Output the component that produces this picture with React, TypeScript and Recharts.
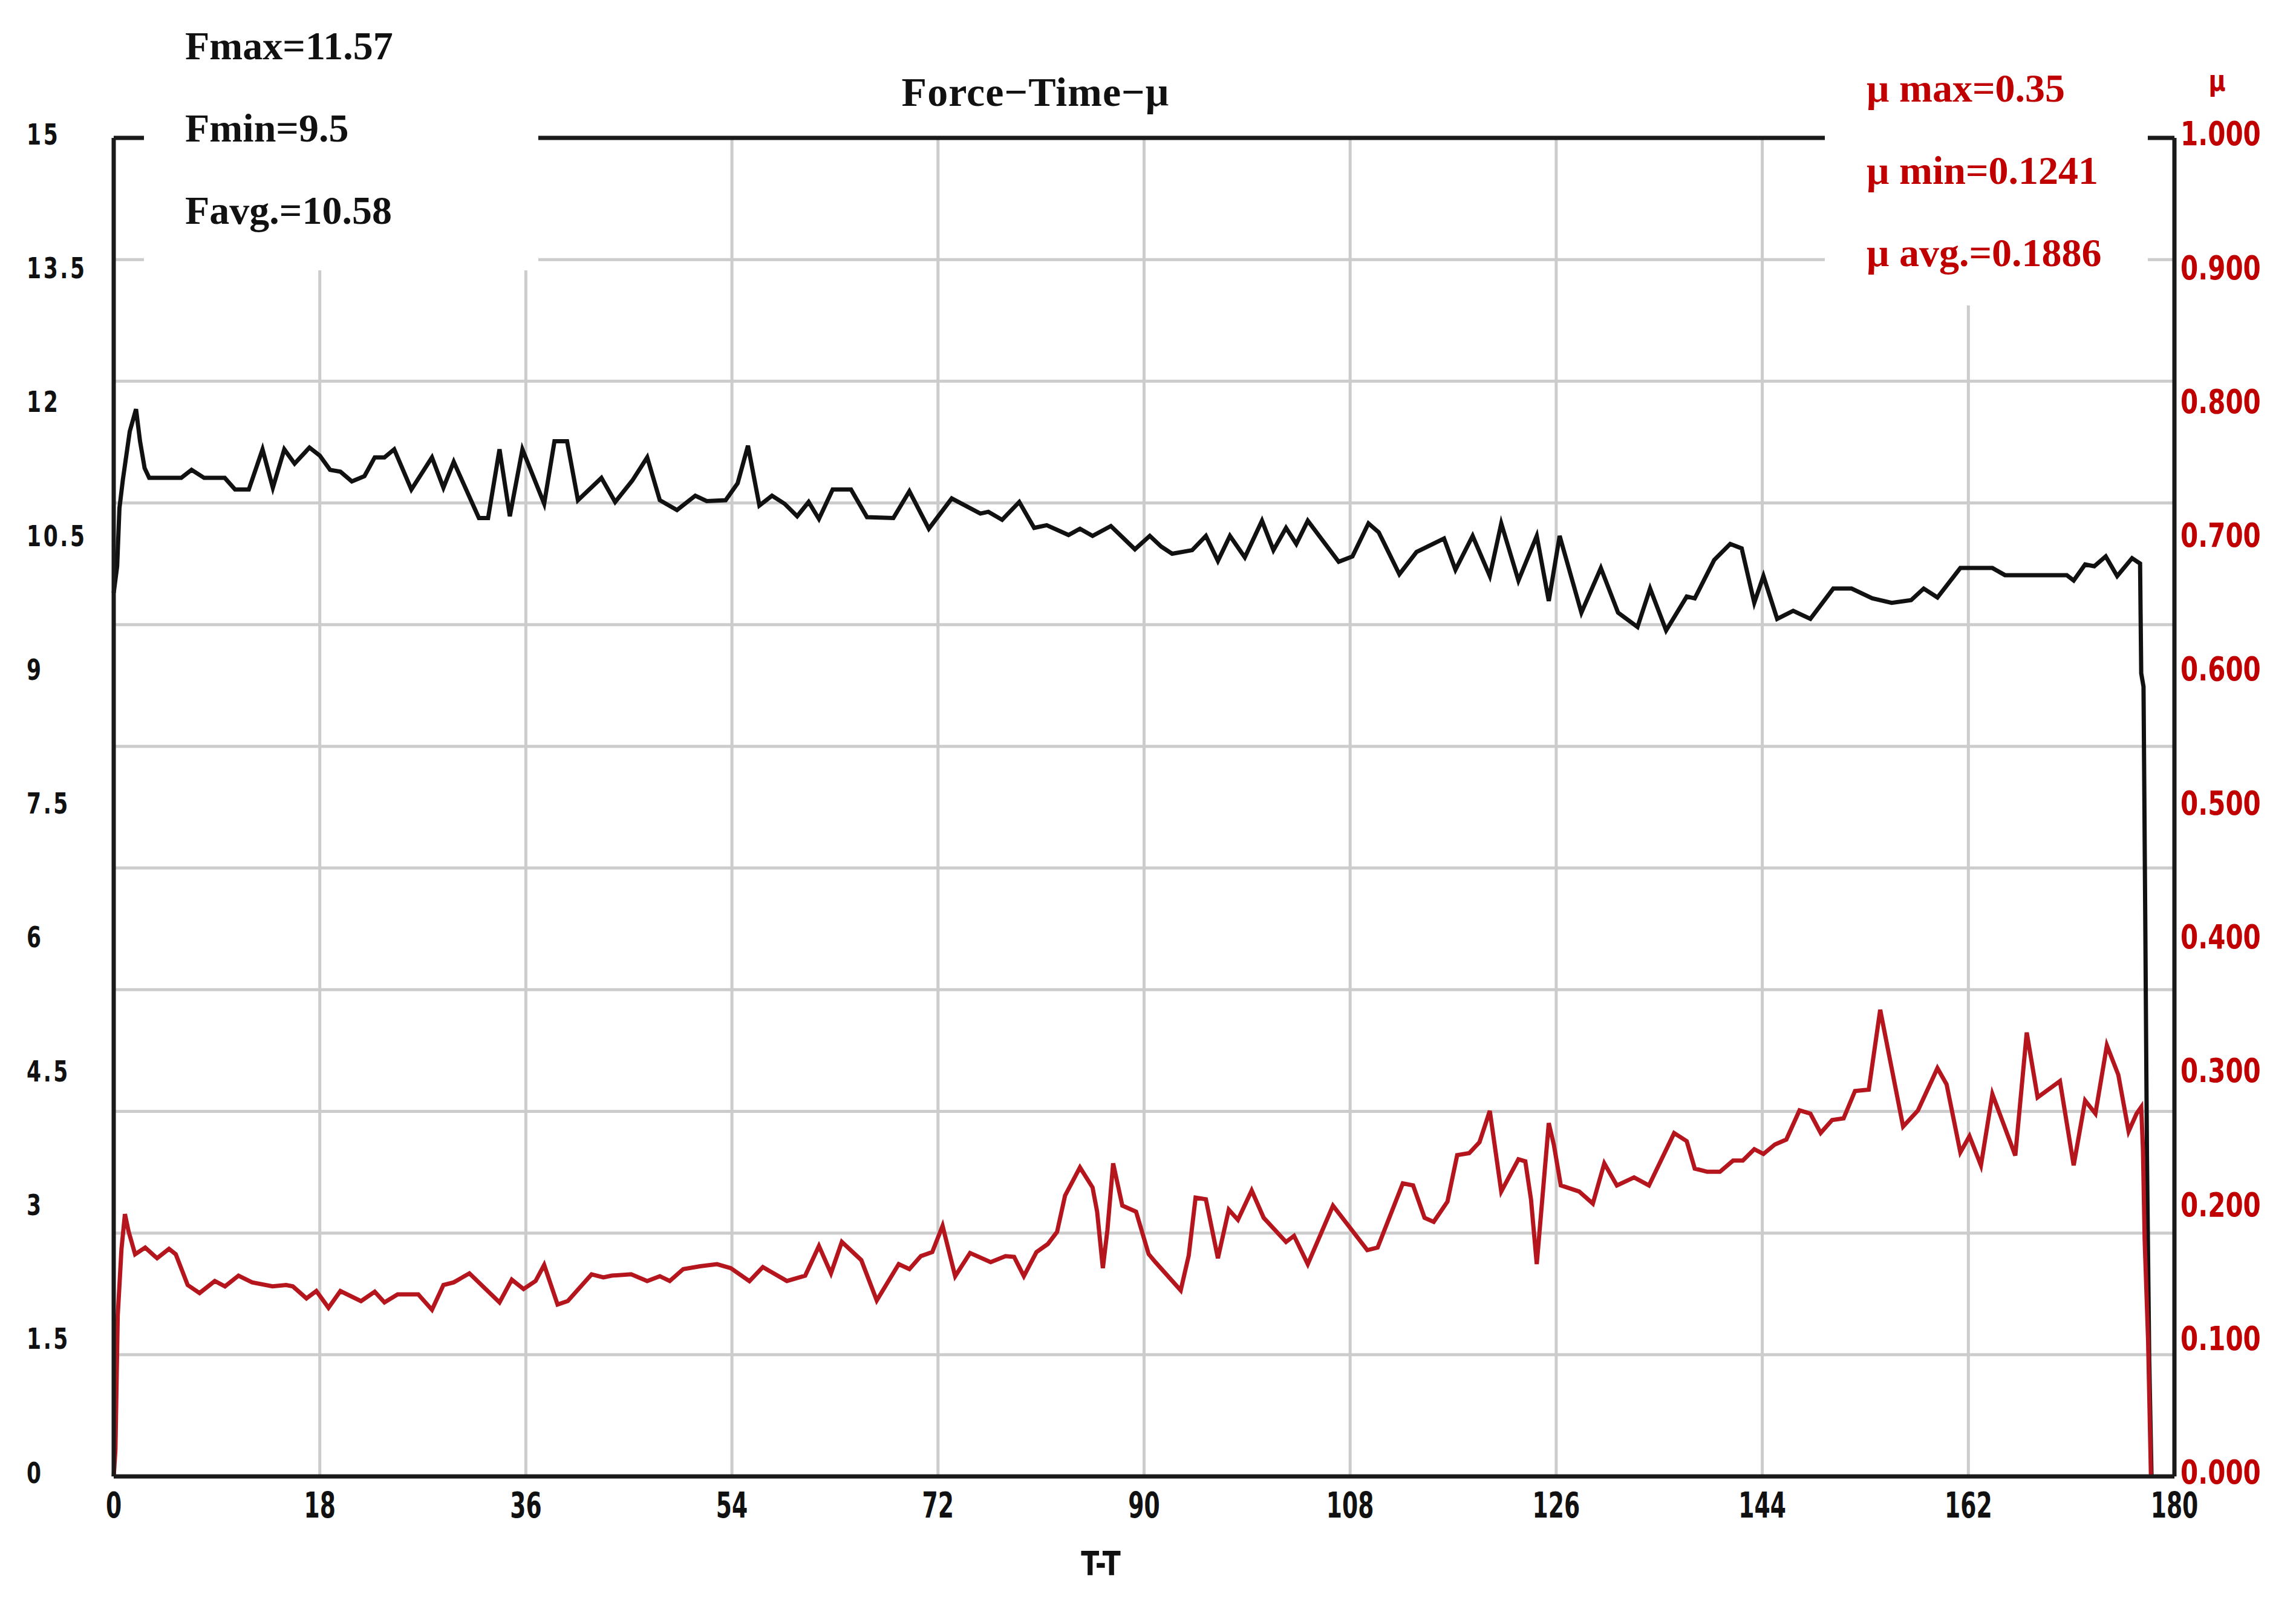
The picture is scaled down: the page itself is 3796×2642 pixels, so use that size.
import React from 'react';
import { LineChart, Line, XAxis, YAxis, CartesianGrid } from 'recharts';

// force curve (time s, force)
const forceTime = [
  0, 0.3, 0.5, 0.8, 1.4, 1.95, 2.3, 2.7, 3.1, 5.9, 6.8, 7.9, 9.7, 10.6, 11.8, 13.0, 13.9, 14.9, 15.8, 17.1,
  18.0, 18.9, 19.8, 20.8, 21.9, 22.8, 23.65, 24.5, 26.0, 27.8, 28.8, 29.7, 31.9, 32.7, 33.7, 34.6, 35.7, 37.6,
  38.5, 39.6, 40.55, 42.6, 43.8, 45.3, 46.6, 47.7, 49.2, 50.8, 51.8, 53.45, 54.5, 55.4, 56.4, 57.5, 58.6, 59.7,
  60.7, 61.6, 62.8, 64.4, 65.8, 68.1, 69.5, 71.2, 73.2, 75.7, 76.4, 77.6, 79.1, 80.4, 81.5, 83.4, 84.4, 85.5,
  87.1, 89.2, 90.5, 91.5, 92.45, 94.2, 95.4, 96.45, 97.5, 98.8, 100.3, 101.3, 102.4, 103.3, 104.3, 107.0, 108.2,
  109.6, 110.5, 112.3, 113.8, 116.2, 117.2, 118.7, 120.2, 121.2, 122.7, 124.3, 125.35, 126.3, 128.2, 129.9,
  131.4, 133.1, 134.2, 135.6, 137.4, 138.1, 139.8, 141.2, 142.2, 143.3, 144.1, 145.3, 146.7, 148.2, 150.2,
  151.8, 153.6, 155.3, 157.0, 158.1, 159.3, 161.3, 164.1, 165.2, 170.6, 171.2, 172.2, 173.0, 174.0, 175.0,
  176.3, 177.0, 177.1, 177.3, 177.45, 177.6, 177.8, 178.0,
];
const forceValues = [
  9.9, 10.2, 10.85, 11.17, 11.71, 11.96, 11.6, 11.3, 11.19, 11.19, 11.28, 11.19, 11.19, 11.06, 11.06, 11.51,
  11.08, 11.51, 11.35, 11.53, 11.44, 11.28, 11.26, 11.15, 11.21, 11.42, 11.42, 11.51, 11.06, 11.42, 11.08,
  11.37, 10.74, 10.74, 11.51, 10.76, 11.51, 10.9, 11.6, 11.6, 10.94, 11.19, 10.92, 11.16, 11.42, 10.94, 10.83,
  10.99, 10.93, 10.94, 11.13, 11.55, 10.88, 10.99, 10.9, 10.76, 10.92, 10.73, 11.06, 11.06, 10.75, 10.74,
  11.04, 10.62, 10.96, 10.79, 10.81, 10.72, 10.92, 10.63, 10.66, 10.55, 10.62, 10.54, 10.65, 10.39, 10.54,
  10.42, 10.34, 10.38, 10.54, 10.26, 10.54, 10.3, 10.71, 10.38, 10.63, 10.45, 10.71, 10.25, 10.31, 10.68,
  10.58, 10.11, 10.36, 10.51, 10.16, 10.54, 10.09, 10.68, 10.04, 10.54, 9.81, 10.54, 9.68, 10.18, 9.68, 9.52,
  9.95, 9.48, 9.86, 9.84, 10.27, 10.45, 10.4, 9.79, 10.09, 9.61, 9.7, 9.61, 9.95, 9.95, 9.84, 9.79, 9.82,
  9.95, 9.85, 10.18, 10.18, 10.1, 10.1, 10.04, 10.22, 10.2, 10.31, 10.09, 10.29, 10.23, 9.0, 8.85, 6.3, 3.6,
  1.3, 0,
];

// friction coefficient curve (time s, mu)
const muTime = [
  0, 0.15, 0.35, 0.68, 0.98, 1.3, 1.87, 2.75, 3.79, 4.83, 5.42, 6.46, 7.5, 8.83, 9.72, 10.9, 12.09, 13.87,
  15.06, 15.65, 16.84, 17.7, 18.76, 19.8, 21.6, 22.8, 23.65, 24.8, 26.6, 27.8, 28.8, 29.7, 31.07, 33.7, 34.77,
  35.8, 36.85, 37.6, 38.77, 39.66, 41.74, 42.77, 43.5, 45.2, 46.6, 47.7, 48.57, 49.75, 51.23, 52.7, 53.9,
  55.53, 56.7, 58.8, 60.4, 61.6, 62.65, 63.6, 65.3, 66.65, 68.57, 69.5, 70.5, 71.5, 72.4, 73.5, 74.8, 76.6,
  77.9, 78.65, 79.5, 80.6, 81.6, 82.4, 83.1, 84.4, 85.5, 85.9, 86.4, 86.8, 87.3, 88.1, 89.3, 90.4, 91.0, 93.2,
  93.9, 94.5, 95.4, 96.45, 97.4, 98.2, 99.4, 100.45, 102.4, 103.1, 104.3, 106.5, 109.5, 110.4, 112.6, 113.5,
  114.5, 115.3, 116.5, 117.35, 118.4, 119.3, 120.2, 121.2, 122.7, 123.3, 123.8, 124.3, 125.35, 125.8, 126.4,
  128.0, 129.2, 130.2, 131.3, 132.8, 134.1, 136.3, 137.4, 138.1, 139.2, 140.3, 141.45, 142.3, 143.3, 144.1,
  145.1, 146.1, 147.25, 148.2, 149.1, 150.1, 151.1, 152.1, 153.3, 154.3, 156.3, 157.6, 159.3, 160.1, 161.3,
  162.1, 163.1, 164.1, 166.1, 167.1, 168.05, 170.0, 171.2, 172.2, 173.1, 174.1, 175.1, 176.0, 176.7, 177.1,
  177.25, 177.4, 177.7, 177.95,
];
const muValues = [
  0, 0.02, 0.12, 0.17, 0.196, 0.183, 0.166, 0.171, 0.163, 0.17, 0.166, 0.143, 0.137, 0.146, 0.142, 0.15,
  0.145, 0.142, 0.143, 0.142, 0.133, 0.1385, 0.126, 0.1385, 0.131, 0.138, 0.13, 0.136, 0.136, 0.1245, 0.143,
  0.145, 0.1517, 0.13, 0.147, 0.14, 0.146, 0.158, 0.1284, 0.131, 0.151, 0.1487, 0.15, 0.151, 0.146, 0.1496,
  0.146, 0.1549, 0.157, 0.1586, 0.1556, 0.1459, 0.1564, 0.146, 0.15, 0.1722, 0.1518, 0.1752, 0.1616, 0.1315,
  0.1586, 0.1549, 0.1646, 0.1676, 0.1872, 0.1496, 0.1669, 0.1601, 0.1646, 0.164, 0.1496, 0.1676, 0.1737,
  0.1827, 0.2098, 0.2309, 0.2159, 0.1978, 0.1556, 0.1842, 0.2339, 0.2023, 0.1978, 0.1661, 0.16, 0.139, 0.165,
  0.2083, 0.207, 0.163, 0.1993, 0.1917, 0.2136, 0.1932, 0.1752, 0.1797, 0.1586, 0.2023, 0.1691, 0.171, 0.2189,
  0.2174, 0.1932, 0.1902, 0.2053, 0.24, 0.2415, 0.2497, 0.2731, 0.2129, 0.2369, 0.2354, 0.2068, 0.1586, 0.264,
  0.2475, 0.2174, 0.2129, 0.2038, 0.2339, 0.2174, 0.2234, 0.2174, 0.2565, 0.2505, 0.23, 0.2276, 0.2276, 0.236,
  0.236, 0.2445, 0.2409, 0.248, 0.2517, 0.2735, 0.271, 0.2566, 0.2663, 0.2675, 0.288, 0.289, 0.3486, 0.2614,
  0.2735, 0.305, 0.2929, 0.2421, 0.2542, 0.2324, 0.2856, 0.2397, 0.3316, 0.2832, 0.2953, 0.2324, 0.2808,
  0.2711, 0.322, 0.3, 0.2578, 0.2711, 0.276, 0.2445, 0.1767, 0.1017, 0,
];

const timeTicks = [0, 18, 36, 54, 72, 90, 108, 126, 144, 162, 180];
const forceTicks = [0, 1.5, 3, 4.5, 6, 7.5, 9, 10.5, 12, 13.5, 15];
const muTicks = [0, 0.1, 0.2, 0.3, 0.4, 0.5, 0.6, 0.7, 0.8, 0.9, 1.0];
// the grid has 11 rows, which do not line up with the labels
const gridRows = [0, 1, 2, 3, 4, 5, 6, 7, 8, 9, 10, 11];

const forceStats = ['Fmax=11.57', 'Fmin=9.5', 'Favg.=10.58'];
const muStats = ['\u03bc max=0.35', '\u03bc min=0.1241', '\u03bc avg.=0.1886'];

const forceData = forceTime.map((t, i) => ({ t, force: forceValues[i] }));
const muData = muTime.map((t, i) => ({ t, mu: muValues[i] }));

const W = 3796;
const H = 2642;
// the instrument uses a tall narrow face; squeeze DejaVu Sans Bold to get close
const axisFont = "'DejaVu Sans', sans-serif";
const serif = "'Liberation Serif', 'DejaVu Serif', serif";
const frame = { stroke: '#1a1a1a', strokeWidth: 7 };
const red = '#c00000';

const LeftTick = ({ x, y, payload }: any) => (
  <g transform={`translate(${x - 144},${y - 6}) scale(0.72,1)`}>
    <text x={0} y={0} textAnchor="start" dominantBaseline="central"
      fontFamily={axisFont} fontWeight="bold" fontSize={48} letterSpacing={5} fill="#111">
      {payload.value}
    </text>
  </g>
);

const RightTick = ({ x, y, payload }: any) => (
  <g transform={`translate(${x + 10},${y - 7}) scale(0.75,1)`}>
    <text x={0} y={0} textAnchor="start" dominantBaseline="central"
      fontFamily={axisFont} fontWeight="bold" fontSize={56} fill={red}>
      {Number(payload.value).toFixed(3)}
    </text>
  </g>
);

const TimeTick = ({ x, y, payload }: any) => (
  <g transform={`translate(${x},${y + 48}) scale(0.65,1)`}>
    <text x={0} y={0} textAnchor="middle" dominantBaseline="central"
      fontFamily={axisFont} fontWeight="bold" fontSize={58} fill="#111">
      {payload.value}
    </text>
  </g>
);

// 11 even rows across the plot area
const rowLines = ({ offset }: any) =>
  gridRows.map((k) => offset.top + (k * offset.height) / (gridRows.length - 1));

const statLine = (top: number, color: string): React.CSSProperties => ({
  position: 'absolute',
  top,
  left: 0,
  whiteSpace: 'nowrap',
  fontFamily: serif,
  fontWeight: 'bold',
  fontSize: 66,
  lineHeight: '60px',
  color,
});

export default function App() {
  return (
    <div style={{ position: 'absolute', left: 0, top: 0, width: W, height: H, background: '#fff' }}>
      <LineChart width={W} height={H} margin={{ top: 227, right: 200, bottom: 200, left: 187 }}>
        <CartesianGrid xAxisId="t" yAxisId="F" stroke="#cccccc" strokeWidth={5}
          horizontalCoordinatesGenerator={rowLines} />
        <XAxis xAxisId="t" dataKey="t" type="number" domain={[0, 180]} ticks={timeTicks} interval={0}
          height={1} tickSize={0} tickMargin={0} tickLine={false} axisLine={frame} tick={TimeTick} />
        <XAxis xAxisId="top" orientation="top" type="number" domain={[0, 180]} height={1}
          tick={false} tickLine={false} axisLine={frame} />
        <YAxis yAxisId="F" type="number" domain={[0, 15]} ticks={forceTicks} interval={0} width={1}
          tickSize={0} tickMargin={0} tickLine={false} axisLine={frame} tick={LeftTick} />
        <YAxis yAxisId="mu" orientation="right" type="number" domain={[0, 1]} ticks={muTicks} interval={0}
          width={1} tickSize={0} tickMargin={0} tickLine={false} axisLine={frame} tick={RightTick} />
        <Line xAxisId="t" yAxisId="F" data={forceData} dataKey="force" type="linear" stroke="#111"
          strokeWidth={7} dot={false} activeDot={false} isAnimationActive={false} />
        <Line xAxisId="t" yAxisId="mu" data={muData} dataKey="mu" type="linear" stroke="#b5161e"
          strokeWidth={7} dot={false} activeDot={false} isAnimationActive={false} />
      </LineChart>

      {/* title */}
      <div style={{ ...statLine(122, '#111'), left: 1412, width: 600, textAlign: 'center', fontSize: 68, letterSpacing: 1 }}>
        Force{'\u2212'}Time{'\u2212'}{'\u03bc'}
      </div>

      {/* force statistics box */}
      <div style={{ position: 'absolute', left: 238, top: 0, width: 652, height: 447, background: '#fff' }}>
        {forceStats.map((s, i) => (
          <div key={s} style={{ ...statLine(46 + i * 136, '#111'), left: 68 }}>{s}</div>
        ))}
      </div>

      {/* friction statistics box */}
      <div style={{ position: 'absolute', left: 3017, top: 0, width: 534, height: 505, background: '#fff' }}>
        {muStats.map((s, i) => (
          <div key={s} style={{ ...statLine(116 + i * 136, red), left: 69 }}>{s}</div>
        ))}
      </div>

      {/* axis names */}
      <div style={{ position: 'absolute', left: 3648, top: 108, fontFamily: axisFont, fontWeight: 'bold',
        fontSize: 48, lineHeight: '50px', color: red, transform: 'scaleX(0.8)' }}>{'\u03bc'}</div>
      <div style={{ position: 'absolute', left: 1740, top: 2555, width: 160, textAlign: 'center',
        fontFamily: axisFont, fontWeight: 'bold', fontSize: 55, lineHeight: '60px', color: '#111',
        transform: 'scaleX(0.8)' }}>T-T</div>
    </div>
  );
}
